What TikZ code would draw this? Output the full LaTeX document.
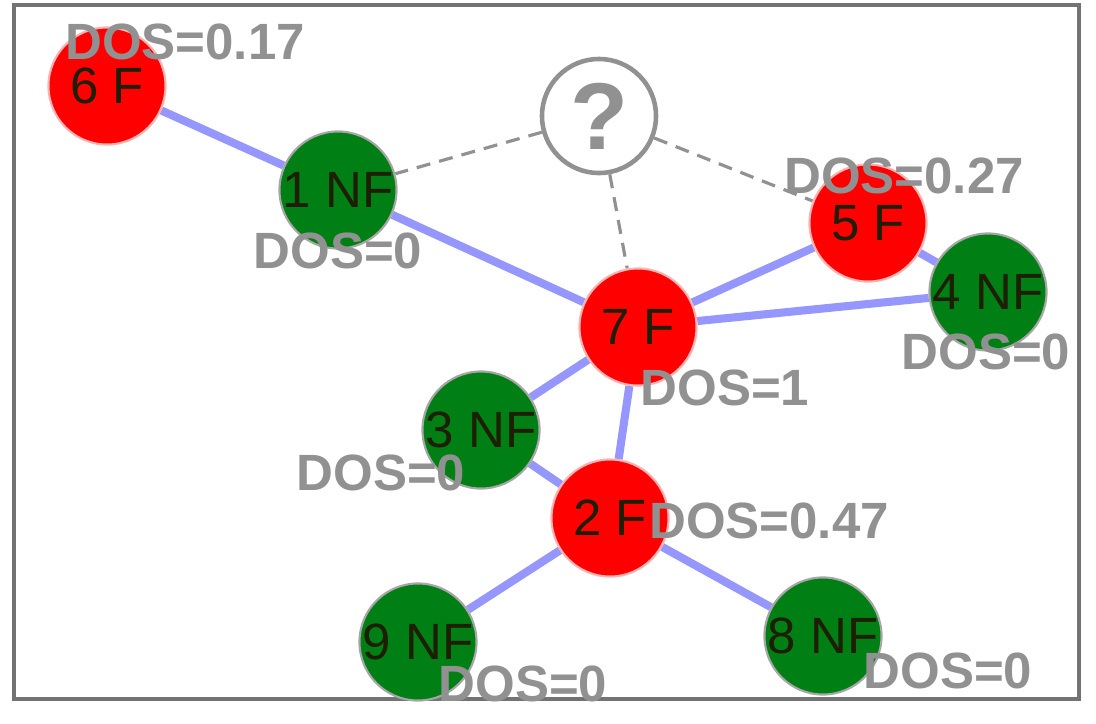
\documentclass[tikz,border=0pt]{standalone}
\usepackage{fontspec}
\setmainfont{Liberation Sans}
\usetikzlibrary{backgrounds}

\definecolor{nodered}{RGB}{255,0,0}
\definecolor{nodegreen}{RGB}{0,128,20}
\definecolor{edgeblue}{RGB}{150,150,255}
\definecolor{dosgray}{RGB}{145,145,145}
\definecolor{txtdark}{RGB}{30,30,0}

\tikzset{
    fnode/.style={circle, fill=nodered, draw=red!30, line width=0.6pt,
                  minimum size=1.17cm, inner sep=0pt, text=txtdark,
                  font=\fontsize{14.5}{14.5}\selectfont},
    nfnode/.style={fnode, fill=nodegreen, draw=gray!70},
    qnode/.style={circle, fill=white, draw=dosgray, line width=1.3pt,
                  minimum size=1.14cm, inner sep=0pt, text=dosgray,
                  font=\fontsize{27}{27}\bfseries},
    dos/.style={text=dosgray, inner sep=0pt, text height=10.4pt, text depth=0pt,
                font=\fontsize{14.5}{14.5}\bfseries},
    link/.style={edgeblue, line width=2.3pt},
    guess/.style={dosgray, line width=0.9pt, dash pattern=on 4pt off 2.6pt}
}

\begin{document}
\begin{tikzpicture}[x=0.01cm, y=-0.01cm]
    % Keep the page the size of the picture
    \useasboundingbox (0,0) rectangle (1096,724);

    % Frame round the graph
    \draw[gray!110, line width=0.9pt] (14,5) rectangle (1079,699);

    % The vertices (F = red, NF = green)
    \node[fnode]  (n6) at (107,86)  {6 F};
    \node[nfnode] (n1) at (338,190) {1 NF};
    \node[fnode]  (n5) at (868,223) {5 F};
    \node[nfnode] (n4) at (988,292) {4 NF};
    \node[fnode]  (n7) at (638,327) {7 F};
    \node[nfnode] (n3) at (481,430) {3 NF};
    \node[fnode]  (n2) at (610,518) {2 F};
    \node[nfnode] (n9) at (418,642) {9 NF};
    \node[nfnode] (n8) at (823,636) {8 NF};

    % The unknown vertex
    \node[qnode] (q) at (599,116) {?};

    % Edges go behind the vertices
    \begin{scope}[on background layer]
        \draw[link] (n6) -- (n1);
        \draw[link] (n1) -- (n7);
        \draw[link] (n7) -- (n5);
        \draw[link] (n7) -- (n4);
        \draw[link] (n5) -- (n4);
        \draw[link] (n7) -- (n3);
        \draw[link] (n7) -- (n2);
        \draw[link] (n3) -- (n2);
        \draw[link] (n2) -- (n9);
        \draw[link] (n2) -- (n8);

        % Guessed links to the unknown vertex
        \draw[guess] (q) -- (n1);
        \draw[guess] (q) -- (n5);
        \draw[guess] (q) -- (n7);
    \end{scope}

    % DOS values
    \node[dos] (d6) at (185,41)  {DOS=0.17};
    \node[dos] (d1) at (338,250) {DOS=0};
    \node[dos] (d5) at (904,175) {DOS=0.27};
    \node[dos] (d4) at (986,351) {DOS=0};
    \node[dos] (d7) at (725,387) {DOS=1};
    \node[dos] (d3) at (381,472) {DOS=0};
    \node[dos] (d2) at (769,520) {DOS=0.47};
    \node[dos] (d8) at (948,670) {DOS=0};
    \node[dos] (d9) at (523,683) {DOS=0};
\end{tikzpicture}
\end{document}
